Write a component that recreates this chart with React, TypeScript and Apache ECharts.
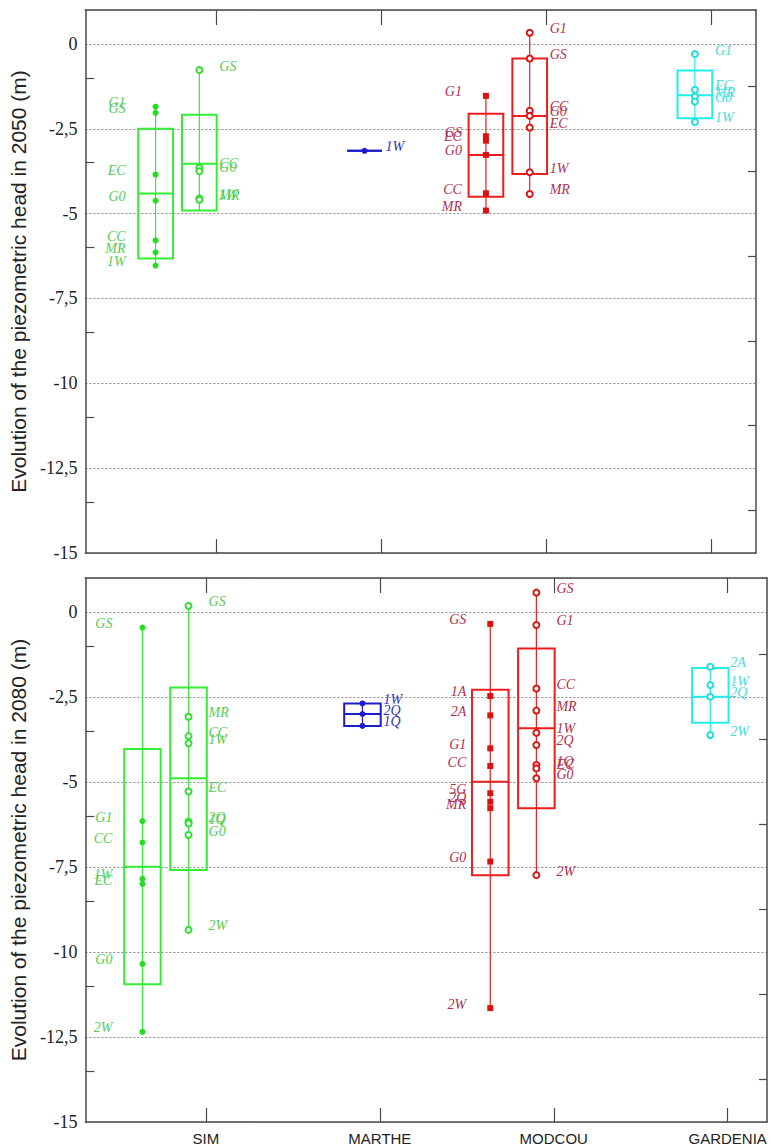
import React, { useEffect, useRef } from "react";
import * as echarts from "echarts";

// ---------- categories & ticks ----------
const CATEGORIES = ["SIM", "MARTHE", "MODCOU", "GARDENIA"];
const LEFT_TICKS = [-1, -3.5, -6, -8.5, -11, -13.5];
const RIGHT_TICKS = [-1.25, -3.75, -6.25, -8.75, -11.25, -13.75];
const CAT_TICKS = [1, 2, 3, 4];

// ---------- 2050 ----------
// box = [whisker low, box low, median, box high, whisker high]
const SIM_A_2050_NAMES = ["G1", "GS", "EC", "G0", "CC", "MR", "1W"];
const SIM_A_2050_VALUES = [-1.85, -2.03, -3.85, -4.62, -5.79, -6.14, -6.53];
const SIM_A_2050_BOX = [-6.53, -6.32, -4.41, -2.5, -1.85];

const SIM_B_2050_NAMES = ["GS", "CC", "G0", "1W", "MR"];
const SIM_B_2050_VALUES = [-0.77, -3.65, -3.75, -4.55, -4.59];
const SIM_B_2050_BOX = [-4.91, -4.91, -3.53, -2.09, -0.77];

const MARTHE_2050_NAMES = ["1W"];
const MARTHE_2050_VALUES = [-3.15];
const MARTHE_2050_BOX = [-3.15, -3.15, -3.15, -3.15, -3.15];

const MODCOU_A_2050_NAMES = ["G1", "GS", "EC", "G0", "CC", "MR"];
const MODCOU_A_2050_VALUES = [-1.53, -2.72, -2.85, -3.27, -4.4, -4.91];
const MODCOU_A_2050_BOX = [-4.91, -4.5, -3.27, -2.06, -1.53];

const MODCOU_B_2050_NAMES = ["G1", "GS", "CC", "G0", "EC", "1W", "MR"];
const MODCOU_B_2050_VALUES = [0.33, -0.43, -1.97, -2.12, -2.46, -3.78, -4.42];
const MODCOU_B_2050_BOX = [-4.42, -3.83, -2.12, -0.43, 0.33];

const GARDENIA_2050_NAMES = ["G1", "EC", "MR", "G0", "1W"];
const GARDENIA_2050_VALUES = [-0.3, -1.35, -1.55, -1.7, -2.3];
const GARDENIA_2050_BOX = [-2.3, -2.19, -1.51, -0.78, -0.3];

// ---------- 2080 ----------
const SIM_A_2080_NAMES = ["GS", "G1", "CC", "1W", "EC", "G0", "2W"];
const SIM_A_2080_VALUES = [-0.46, -6.15, -6.78, -7.85, -8.0, -10.35, -12.35];
const SIM_A_2080_BOX = [-12.35, -10.95, -7.49, -4.03, -0.46];

const SIM_B_2080_NAMES = ["GS", "MR", "CC", "1W", "EC", "2Q", "1Q", "G0", "2W"];
const SIM_B_2080_VALUES = [0.18, -3.08, -3.65, -3.86, -5.28, -6.17, -6.22, -6.56, -9.35];
const SIM_B_2080_BOX = [-9.35, -7.59, -4.89, -2.22, 0.18];

const MARTHE_2080_NAMES = ["1W", "2Q", "1Q"];
const MARTHE_2080_VALUES = [-2.69, -3.0, -3.35];
const MARTHE_2080_BOX = [-3.35, -3.35, -3.0, -2.69, -2.69];

const MODCOU_A_2080_NAMES = ["GS", "1A", "2A", "G1", "CC", "5G", "2Q", "MR", "G0", "2W"];
const MODCOU_A_2080_VALUES = [-0.35, -2.47, -3.04, -4.01, -4.53, -5.33, -5.58, -5.77, -7.34, -11.65];
const MODCOU_A_2080_BOX = [-11.65, -7.74, -4.99, -2.29, -0.35];

const MODCOU_B_2080_NAMES = ["GS", "G1", "CC", "MR", "1W", "2Q", "1Q", "EC", "G0", "2W"];
const MODCOU_B_2080_VALUES = [0.57, -0.38, -2.25, -2.9, -3.55, -3.91, -4.5, -4.6, -4.89, -7.74];
const MODCOU_B_2080_BOX = [-7.74, -5.77, -3.42, -1.07, 0.57];

const GARDENIA_2080_NAMES = ["2A", "1W", "2Q", "2W"];
const GARDENIA_2080_VALUES = [-1.61, -2.15, -2.49, -3.62];
const GARDENIA_2080_BOX = [-3.62, -3.26, -2.49, -1.65, -1.61];

// ---------- styles ----------
const STYLE: Record<string, any> = {
  SIM_A: { line: "#33ee33", point: "#22dd22", label: "#55cc55", symbol: "circle", side: "left", dist: 27 },
  SIM_B: { line: "#33ee33", point: "#33dd33", label: "#55cc55", symbol: "emptyCircle", side: "right", dist: 16 },
  MARTHE: { line: "#1c1ccc", point: "#1c1ccc", label: "#3333bb", symbol: "circle", side: "right", dist: 18 },
  MODCOU_A: { line: "#ee1c1c", point: "#dd1111", label: "#b03050", symbol: "rect", side: "left", dist: 21 },
  MODCOU_B: { line: "#ee1c1c", point: "#dd1515", label: "#b03050", symbol: "emptyCircle", side: "right", dist: 16 },
  GARDENIA: { line: "#22eeee", point: "#22dddd", label: "#44dddd", symbol: "emptyCircle", side: "right", dist: 16 },
};
const SLOT_OFFSET = [-0.365, -0.1];

const GROUPS_2050 = [
  { cat: 0, slot: 0, style: "SIM_A", names: SIM_A_2050_NAMES, values: SIM_A_2050_VALUES, box: SIM_A_2050_BOX },
  { cat: 0, slot: 1, style: "SIM_B", names: SIM_B_2050_NAMES, values: SIM_B_2050_VALUES, box: SIM_B_2050_BOX },
  { cat: 1, slot: 1, style: "MARTHE", names: MARTHE_2050_NAMES, values: MARTHE_2050_VALUES, box: MARTHE_2050_BOX },
  { cat: 2, slot: 0, style: "MODCOU_A", names: MODCOU_A_2050_NAMES, values: MODCOU_A_2050_VALUES, box: MODCOU_A_2050_BOX },
  { cat: 2, slot: 1, style: "MODCOU_B", names: MODCOU_B_2050_NAMES, values: MODCOU_B_2050_VALUES, box: MODCOU_B_2050_BOX },
  { cat: 3, slot: 1, style: "GARDENIA", names: GARDENIA_2050_NAMES, values: GARDENIA_2050_VALUES, box: GARDENIA_2050_BOX },
];
const GROUPS_2080 = [
  { cat: 0, slot: 0, style: "SIM_A", names: SIM_A_2080_NAMES, values: SIM_A_2080_VALUES, box: SIM_A_2080_BOX },
  { cat: 0, slot: 1, style: "SIM_B", names: SIM_B_2080_NAMES, values: SIM_B_2080_VALUES, box: SIM_B_2080_BOX },
  { cat: 1, slot: 1, style: "MARTHE", names: MARTHE_2080_NAMES, values: MARTHE_2080_VALUES, box: MARTHE_2080_BOX },
  { cat: 2, slot: 0, style: "MODCOU_A", names: MODCOU_A_2080_NAMES, values: MODCOU_A_2080_VALUES, box: MODCOU_A_2080_BOX },
  { cat: 2, slot: 1, style: "MODCOU_B", names: MODCOU_B_2080_NAMES, values: MODCOU_B_2080_VALUES, box: MODCOU_B_2080_BOX },
  { cat: 3, slot: 1, style: "GARDENIA", names: GARDENIA_2080_NAMES, values: GARDENIA_2080_VALUES, box: GARDENIA_2080_BOX },
];

const PANELS = [
  { year: "2050", groups: GROUPS_2050, grid: { left: 83, top: 10, width: 673, height: 543 }, xmin: 0.21, xmax: 4.27, showCats: false },
  { year: "2080", groups: GROUPS_2080, grid: { left: 83, top: 578, width: 684, height: 544 }, xmin: 0.307, xmax: 4.226, showCats: true },
];

const AXIS_COLOR = "#4a4a4a";

function boxRenderer(color: string) {
  return (params: any, api: any) => {
    const x = api.value(0);
    const wLo = api.coord([x, api.value(1)]);
    const bLo = api.coord([x, api.value(2)]);
    const med = api.coord([x, api.value(3)]);
    const bHi = api.coord([x, api.value(4)]);
    const wHi = api.coord([x, api.value(5)]);
    const w = api.size([0.21, 0])[0];
    const cx = wLo[0];
    return {
      type: "group",
      children: [
        { type: "line", shape: { x1: cx, y1: Math.max(wLo[1], bLo[1]), x2: cx, y2: Math.min(wHi[1], bHi[1]) }, style: { stroke: color, lineWidth: 1.2 } },
        { type: "rect", shape: { x: cx - w / 2, y: bHi[1], width: w, height: bLo[1] - bHi[1] }, style: { fill: "none", stroke: color, lineWidth: 2 } },
        { type: "line", shape: { x1: cx - w / 2, y1: med[1], x2: cx + w / 2, y2: med[1] }, style: { stroke: color, lineWidth: 2 } },
      ],
    };
  };
}

function buildOption() {
  const grid: any[] = [];
  const xAxis: any[] = [];
  const yAxis: any[] = [];
  const series: any[] = [];

  PANELS.forEach((p, pi) => {
    grid.push(p.grid);
    // bottom x
    xAxis.push({
      type: "value", gridIndex: pi, position: "bottom", min: p.xmin, max: p.xmax,
      axisLine: { show: true, onZero: false, lineStyle: { color: AXIS_COLOR, width: 1.5 } },
      axisTick: { show: true, inside: true, length: 14, customValues: CAT_TICKS, lineStyle: { color: AXIS_COLOR, width: 1.2 } },
      axisLabel: {
        show: p.showCats, customValues: CAT_TICKS, margin: 9,
        formatter: (v: number) => CATEGORIES[Math.round(v) - 1] || "",
        fontFamily: "Liberation Sans", fontSize: 15, color: "#222",
      },
      splitLine: { show: false },
    });
    // top x
    xAxis.push({
      type: "value", gridIndex: pi, position: "top", min: p.xmin, max: p.xmax,
      axisLine: { show: true, onZero: false, lineStyle: { color: AXIS_COLOR, width: 1.5 } },
      axisTick: { show: true, inside: true, length: 15, customValues: CAT_TICKS, lineStyle: { color: AXIS_COLOR, width: 1.2 } },
      axisLabel: { show: false },
      splitLine: { show: false },
    });
    // main left y (labels, grid)
    yAxis.push({
      type: "value", gridIndex: pi, position: "left", min: -15, max: 1, interval: 2.5,
      name: `Evolution of the piezometric head in ${p.year} (m)`,
      nameLocation: "middle", nameGap: 55, nameRotate: 90,
      nameTextStyle: { fontFamily: "Liberation Sans", fontSize: 21, color: "#222" },
      axisLine: { show: true, onZero: false, lineStyle: { color: AXIS_COLOR, width: 1.5 } },
      axisTick: { show: false },
      axisLabel: {
        margin: 8, fontFamily: "Liberation Serif", fontSize: 18, color: "#222",
        formatter: (v: number) => (v > 0.5 ? "" : String(v).replace(".", ",")),
      },
      splitLine: { show: true, lineStyle: { type: [2, 2], color: "#8a8a8a", width: 1.2 } },
    });
    // left ticks
    yAxis.push({
      type: "value", gridIndex: pi, position: "left", min: -15, max: 1,
      axisLine: { show: false },
      axisTick: { show: true, inside: true, length: 9, customValues: LEFT_TICKS, lineStyle: { color: AXIS_COLOR, width: 1.2 } },
      axisLabel: { show: false },
      splitLine: { show: false },
    });
    // right ticks
    yAxis.push({
      type: "value", gridIndex: pi, position: "right", min: -15, max: 1,
      axisLine: { show: true, onZero: false, lineStyle: { color: AXIS_COLOR, width: 1.5 } },
      axisTick: { show: true, inside: true, length: 8, customValues: RIGHT_TICKS, lineStyle: { color: AXIS_COLOR, width: 1.2 } },
      axisLabel: { show: false },
      splitLine: { show: false },
    });

    p.groups.forEach((g) => {
      const st = STYLE[g.style];
      const x = g.cat + 1 + SLOT_OFFSET[g.slot];
      series.push({
        type: "custom", xAxisIndex: pi * 2, yAxisIndex: pi * 3, silent: true, z: 2,
        renderItem: boxRenderer(st.line),
        data: [[x, ...g.box]],
      });
      series.push({
        type: "scatter", xAxisIndex: pi * 2, yAxisIndex: pi * 3, z: 3, silent: true,
        symbol: st.symbol, symbolSize: st.symbol === "rect" ? 6 : 6,
        itemStyle: { color: st.point, borderColor: st.point, borderWidth: st.symbol === "emptyCircle" ? 1.5 : 0, opacity: 1 },
        label: {
          show: true, position: st.side, distance: st.dist, offset: [0, -4], formatter: "{b}",
          color: st.label, fontFamily: "Liberation Serif", fontStyle: "italic", fontSize: 14,
        },
        data: g.names.map((n, i) => ({ name: n, value: [x, g.values[i]] })),
      });
    });
  });

  return { animation: false, backgroundColor: "#ffffff", grid, xAxis, yAxis, series };
}

export default function App() {
  const ref = useRef<HTMLDivElement>(null);
  useEffect(() => {
    if (!ref.current) return;
    const chart = echarts.init(ref.current, undefined, { renderer: "svg" });
    chart.setOption(buildOption() as any);
    return () => chart.dispose();
  }, []);
  return <div ref={ref} style={{ position: "absolute", left: 0, top: 0, width: 771, height: 1148 }} />;
}
